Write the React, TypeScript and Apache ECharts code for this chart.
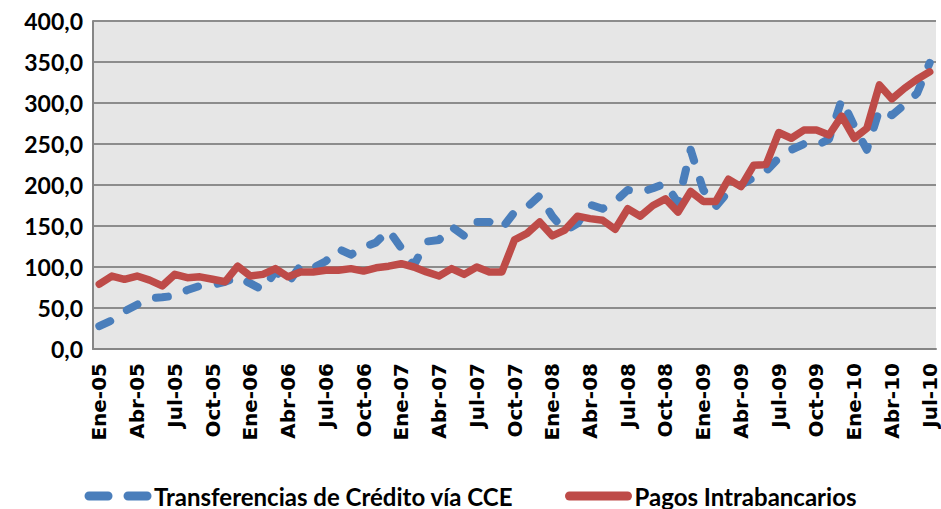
import React, { useEffect, useRef } from "react";
import * as echarts from "echarts";

const monthNames = ["Ene", "Feb", "Mar", "Abr", "May", "Jun", "Jul", "Ago", "Sep", "Oct", "Nov", "Dic"];
const years = ["05", "06", "07", "08", "09", "10"];
const lastMonthIndex2010 = 6; // Jul-10

const categories: string[] = [];
years.forEach((y, yi) => {
  monthNames.forEach((m, mi) => {
    if (yi === years.length - 1 && mi > lastMonthIndex2010) return;
    categories.push(`${m}-${y}`);
  });
});

const transferenciasCCE = [
  28, 35, 46, 54, 62, 63, 65, 72, 77, 78, 82, 88,
  80, 72, 95, 80, 102, 99, 107, 122, 115, 124, 130, 145,
  123, 102, 131, 133, 149, 138, 155, 155, 147, 167, 173, 187,
  162, 144, 153, 176, 171, 180, 194, 191, 196, 202, 178, 243,
  194, 174, 192, 200, 209, 217, 233, 243, 250, 248, 256, 304,
  272, 243, 292, 285, 298, 312, 349,
];

const pagosIntrabancarios = [
  79, 89, 85, 89, 84, 77, 91, 87, 88, 85, 82, 101,
  89, 91, 98, 88, 94, 94, 96, 96, 98, 95, 99, 101,
  104, 100, 94, 89, 98, 91, 100, 94, 94, 133, 141, 155,
  138, 145, 162, 159, 157, 146, 171, 162, 175, 183, 167, 192,
  180, 180, 207, 198, 224, 225, 264, 257, 267, 267, 261, 284,
  257, 269, 322, 305, 318, 329, 338,
];

const seriesNames = ["Transferencias de Crédito vía CCE", "Pagos Intrabancarios"];

export default function App() {
  const ref = useRef<HTMLDivElement>(null);
  useEffect(() => {
    if (!ref.current) return;
    const chart = echarts.init(ref.current, undefined, { renderer: "svg" });
    chart.setOption({
      animation: false,
      backgroundColor: "#ffffff",
      grid: {
        left: 93,
        right: 5,
        top: 21,
        bottom: 160,
        show: true,
        backgroundColor: "#e6e6e6",
        borderWidth: 0,
      },
      legend: {
        top: 479,
        left: "center",
        itemWidth: 58,
        itemHeight: 9,
        itemGap: 52,
        itemStyle: { opacity: 0 },
        lineStyle: { width: 9, cap: "round" },
        textStyle: {
          fontFamily: "Lato",
          fontWeight: "bold",
          fontSize: 24,
          color: "#000",
          padding: [0, 0, 0, 2],
        },
        data: [
          { name: seriesNames[0], lineStyle: { width: 9, type: [19, 20], cap: "round" } },
          { name: seriesNames[1], lineStyle: { width: 9, type: "solid", cap: "round" } },
        ],
      },
      xAxis: {
        type: "category",
        data: categories,
        boundaryGap: true,
        axisLine: { show: true, lineStyle: { color: "#868686", width: 2 } },
        axisTick: { show: false },
        axisLabel: {
          interval: 2,
          rotate: 90,
          fontFamily: "DejaVu Sans",
          fontWeight: "bold",
          fontSize: 20,
          color: "#000",
          margin: 14,
        },
        splitLine: { show: false },
      },
      yAxis: {
        type: "value",
        min: 0,
        max: 400,
        interval: 50,
        axisLine: { show: true, lineStyle: { color: "#868686", width: 2 } },
        axisTick: { show: false },
        axisLabel: {
          fontFamily: "Lato",
          fontWeight: "bold",
          fontSize: 23,
          color: "#000",
          margin: 10,
          formatter: (v: number) => v.toFixed(1).replace(".", ","),
        },
        splitLine: { show: true, lineStyle: { color: "#8c8c8c", width: 2 } },
      },
      series: [
        {
          name: seriesNames[0],
          type: "line",
          data: transferenciasCCE,
          symbol: "none",
          lineStyle: {
            color: "#4a7ebb",
            width: 8,
            type: [12, 20],
            cap: "round",
            join: "round",
          },
          itemStyle: { color: "#4a7ebb" },
          z: 2,
        },
        {
          name: seriesNames[1],
          type: "line",
          data: pagosIntrabancarios,
          symbol: "none",
          lineStyle: {
            color: "#be4b48",
            width: 7.5,
            type: "solid",
            cap: "round",
            join: "round",
          },
          itemStyle: { color: "#be4b48" },
          z: 3,
        },
      ],
    });
    return () => chart.dispose();
  }, []);
  return <div ref={ref} style={{ width: 941, height: 509, position: "absolute", left: 0, top: 0 }} />;
}
